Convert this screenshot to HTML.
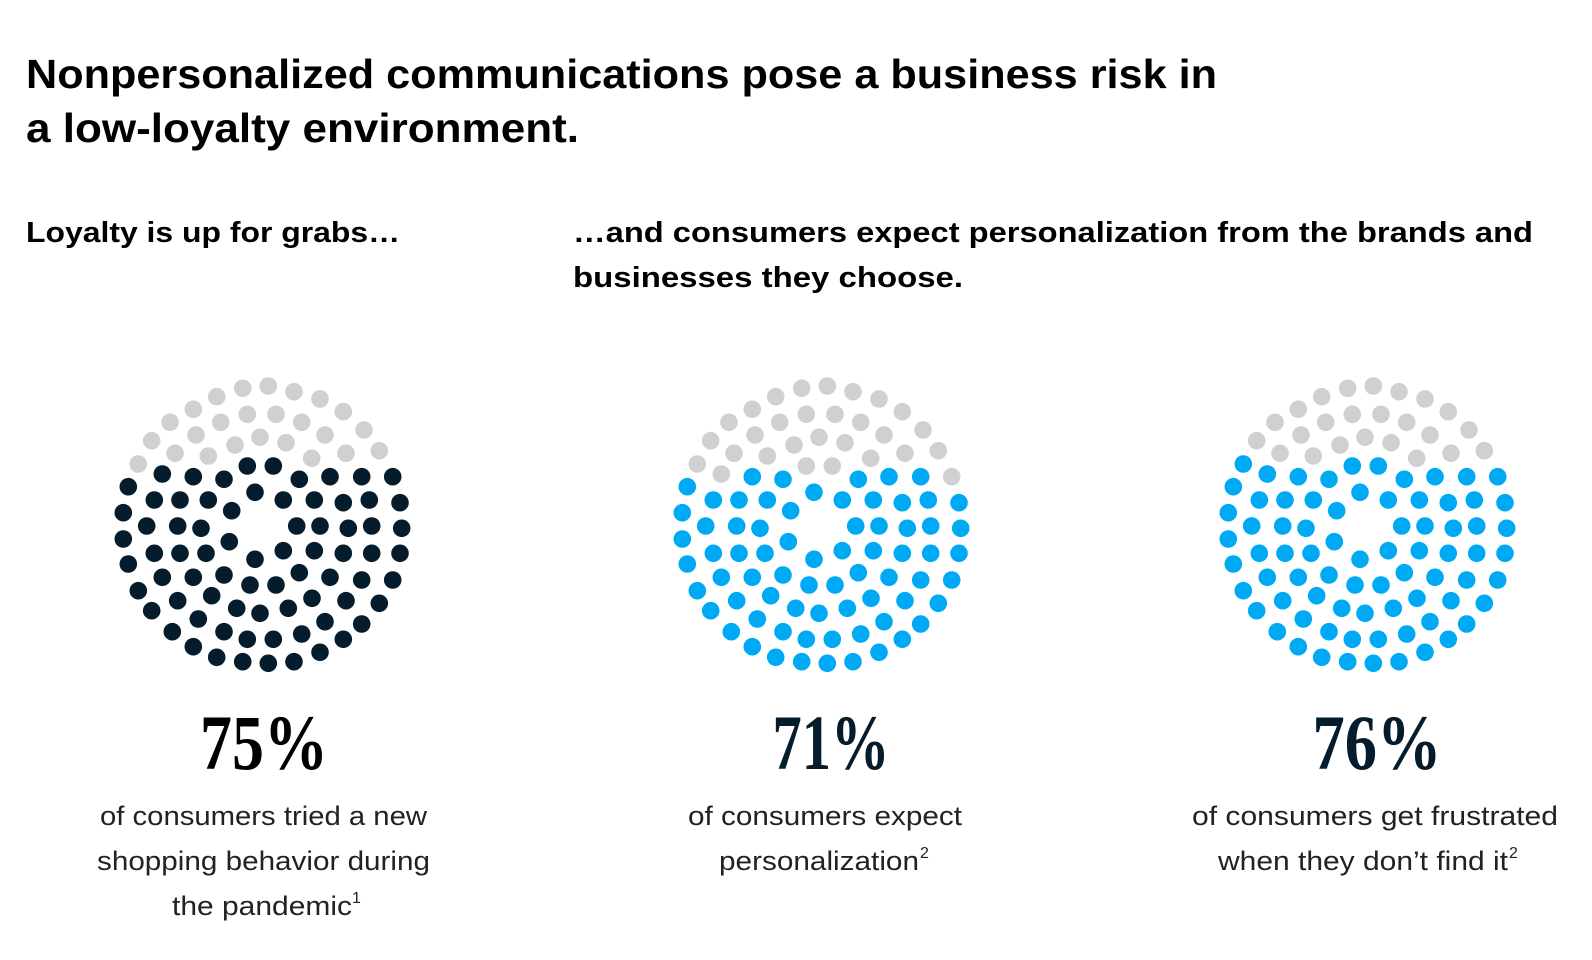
<!DOCTYPE html>
<html><head><meta charset="utf-8"><style>
html,body{margin:0;padding:0;background:#fff;}
svg{display:block;}
.t{font-family:"Liberation Sans",sans-serif;font-weight:bold;fill:#000;}
.c{font-family:"Liberation Sans",sans-serif;fill:#222;font-size:27px;}
.s{font-family:"Liberation Sans",sans-serif;fill:#222;font-size:16px;}
.n{font-family:"Liberation Serif",serif;font-weight:bold;font-size:78px;}
</style></head><body>
<svg id="s" width="1592" height="960" viewBox="0 0 1592 960" xmlns="http://www.w3.org/2000/svg">
<text class="t" x="26" y="88" font-size="41" textLength="1191" lengthAdjust="spacingAndGlyphs">Nonpersonalized communications pose a business risk in</text>
<text class="t" x="26" y="142" font-size="41" textLength="553" lengthAdjust="spacingAndGlyphs">a low-loyalty environment.</text>
<text class="t" x="26" y="242" font-size="29" textLength="374" lengthAdjust="spacingAndGlyphs">Loyalty is up for grabs…</text>
<text class="t" x="573" y="242" font-size="29" textLength="960" lengthAdjust="spacingAndGlyphs">…and consumers expect personalization from the brands and</text>
<text class="t" x="573" y="287" font-size="29" textLength="390" lengthAdjust="spacingAndGlyphs">businesses they choose.</text>
<g id="dots"></g>
<text class="n" x="264" y="769" text-anchor="middle" fill="#000" textLength="128" lengthAdjust="spacingAndGlyphs">75%</text>
<text class="n" x="831" y="769" text-anchor="middle" fill="#051c2c" textLength="117" lengthAdjust="spacingAndGlyphs">71%</text>
<text class="n" x="1377" y="769" text-anchor="middle" fill="#051c2c" textLength="129" lengthAdjust="spacingAndGlyphs">76%</text>
<text class="c" x="100" y="825" textLength="327" lengthAdjust="spacingAndGlyphs">of consumers tried a new</text>
<text class="c" x="97" y="870" textLength="333" lengthAdjust="spacingAndGlyphs">shopping behavior during</text>
<text class="c" x="172" y="915" textLength="180" lengthAdjust="spacingAndGlyphs">the pandemic</text>
<text class="s" x="352" y="903">1</text>
<text class="c" x="719" y="870" textLength="200" lengthAdjust="spacingAndGlyphs">personalization</text>
<text class="s" x="920" y="858">2</text>
<text class="c" x="688" y="825" textLength="274" lengthAdjust="spacingAndGlyphs">of consumers expect</text>
<text class="c" x="1192" y="825" textLength="366" lengthAdjust="spacingAndGlyphs">of consumers get frustrated</text>
<text class="c" x="1218" y="870" textLength="290" lengthAdjust="spacingAndGlyphs">when they don’t find it</text>
<text class="s" x="1509" y="858">2</text>
</svg>
<script>
var gray=[[505,78],[428,85],[350,110],[582,95],[660,117],[280,148],[730,155],[210,187],[362,187],[442,163],[528,163],[605,187],[288,225],[480,232],[558,248],[675,225],[792,210],[155,242],[405,255],[225,280],[325,288],[635,295],[738,280],[838,272],[115,312]];
var dark=[[442,318],[520,318],[187,342],[280,350],[372,358],[598,358],[690,350],[785,350],[878,350],[85,380],
[465,397],[163,420],[240,420],[325,420],[395,452],[550,420],[643,420],[730,428],[808,420],[900,428],
[70,458],[140,498],[233,498],[303,505],[590,498],[660,498],[745,505],[815,498],[905,505],
[70,537],[388,545],
[163,580],[240,580],[318,580],[550,572],[643,572],[730,580],[815,580],[900,580],[465,598],
[85,612],
[187,652],[280,652],[372,645],[598,638],[690,652],[785,660],[878,660],[450,675],[528,675],
[115,692],[233,722],[335,707],[636,715],[738,722],[838,730],[410,745],[480,760],[565,745],
[155,752],[295,777],[675,785],[785,792],
[217,815],[372,815],[442,838],[520,838],[605,822],[730,838],
[280,860],[350,892],[428,905],[505,910],[582,905],[660,877]];
var extra2=["187,342","442,318","520,318","878,350"];
var g=document.getElementById('dots'),h='';
function add(dx,list,col){list.forEach(function(p){h+='<circle cx="'+(100+p[0]/3+dx).toFixed(1)+'" cy="'+(360+p[1]/3).toFixed(1)+'" r="8.8" fill="'+col+'"/>';});}
add(0,gray,'#d0d0d0');add(0,dark,'#051c2c');
add(559,gray,'#d0d0d0');
dark.forEach(function(p){add(559,[p],extra2.indexOf(p.join(','))>=0?'#d0d0d0':'#00a9f4');});
gray.forEach(function(p){add(1105,[p],(p[0]==115&&p[1]==312)?'#00a9f4':'#d0d0d0');});
add(1105,dark,'#00a9f4');
g.innerHTML=h;
</script>
</body></html>
